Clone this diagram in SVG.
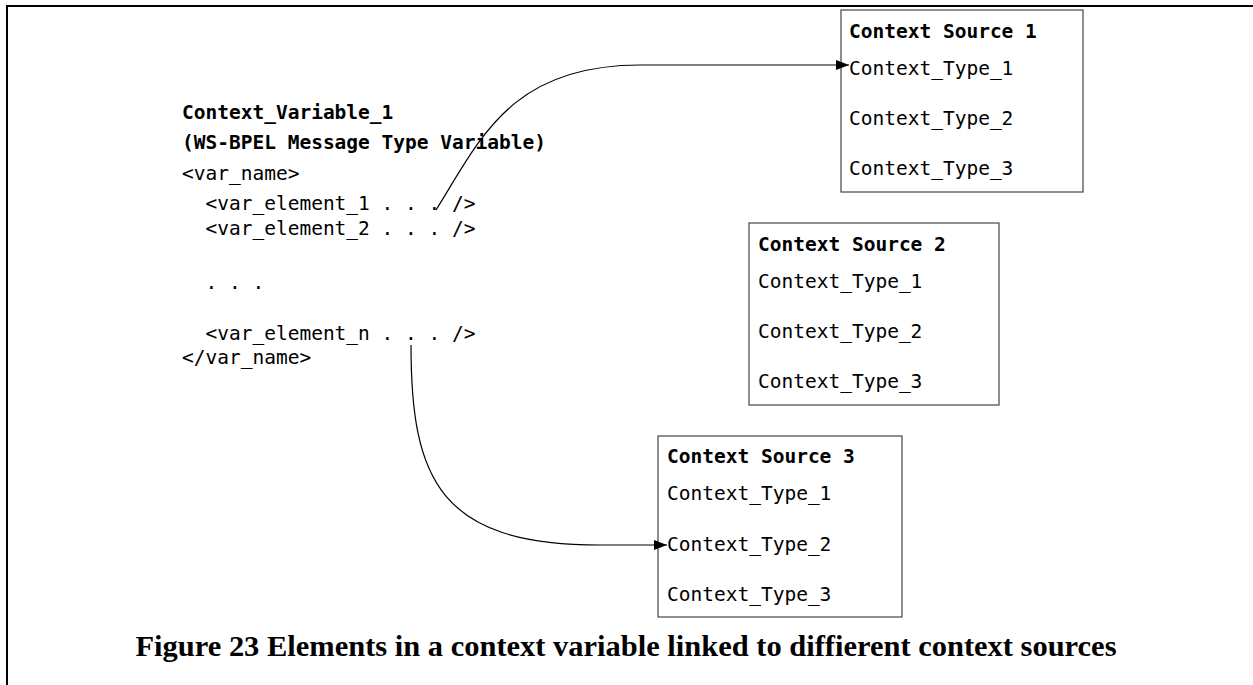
<svg xmlns="http://www.w3.org/2000/svg" width="1253" height="685" viewBox="0 0 1253 685">
<style>
.m{font-family:"DejaVu Sans Mono","Liberation Mono",monospace;font-size:19.5px;fill:#000}
.b{font-weight:bold}
.box{fill:#fff;stroke:#444;stroke-width:1.2}
.c{fill:none;stroke:#000;stroke-width:1.2}
.cap{font-family:"Liberation Serif",serif;font-weight:bold;font-size:29px;fill:#000}
</style>
<defs>
<marker id="ah" viewBox="0 0 13 10" refX="13" refY="5" markerWidth="13" markerHeight="10" markerUnits="userSpaceOnUse" orient="auto">
<path d="M0,0 L13,5 L0,10 Z" fill="#000"/>
</marker>
</defs>
<rect width="1253" height="685" fill="#fff"/>
<path d="M7,685 V6 H1253" fill="none" stroke="#000" stroke-width="2"/>
<g id="variable">
<text class="m b" x="182" y="119">Context_Variable_1</text>
<text class="m b" x="182" y="149">(WS-BPEL Message Type Variable)</text>
<text class="m" x="182" y="180" xml:space="preserve">&lt;var_name&gt;</text>
<text class="m" x="182" y="210" xml:space="preserve">  &lt;var_element_1 . . . /&gt;</text>
<text class="m" x="182" y="235" xml:space="preserve">  &lt;var_element_2 . . . /&gt;</text>
<text class="m" x="182" y="289" xml:space="preserve">  . . .</text>
<text class="m" x="182" y="340" xml:space="preserve">  &lt;var_element_n . . . /&gt;</text>
<text class="m" x="182" y="364" xml:space="preserve">&lt;/var_name&gt;</text>
</g>
<g id="source1">
<rect class="box" x="841" y="10" width="242" height="182"/>
<text class="m b" x="849" y="38">Context Source 1</text>
<text class="m" x="849" y="75">Context_Type_1</text>
<text class="m" x="849" y="125">Context_Type_2</text>
<text class="m" x="849" y="175">Context_Type_3</text>
</g>
<g id="source2">
<rect class="box" x="749" y="223" width="250" height="182"/>
<text class="m b" x="758" y="251">Context Source 2</text>
<text class="m" x="758" y="288">Context_Type_1</text>
<text class="m" x="758" y="338">Context_Type_2</text>
<text class="m" x="758" y="388">Context_Type_3</text>
</g>
<g id="source3">
<rect class="box" x="658" y="436" width="244" height="181"/>
<text class="m b" x="667" y="463">Context Source 3</text>
<text class="m" x="667" y="500">Context_Type_1</text>
<text class="m" x="667" y="551">Context_Type_2</text>
<text class="m" x="667" y="601">Context_Type_3</text>
</g>
<g id="connectors">
<path class="c" d="M436,210 C480,140 510,65 640,65 L849,65" marker-end="url(#ah)"/>
<path class="c" d="M411,345 C411,480 440,545 600,545 L667,545" marker-end="url(#ah)"/>
</g>
<text class="cap" x="626" y="656" text-anchor="middle" textLength="981" lengthAdjust="spacingAndGlyphs">Figure 23 Elements in a context variable linked to diffierent context sources</text>
</svg>
